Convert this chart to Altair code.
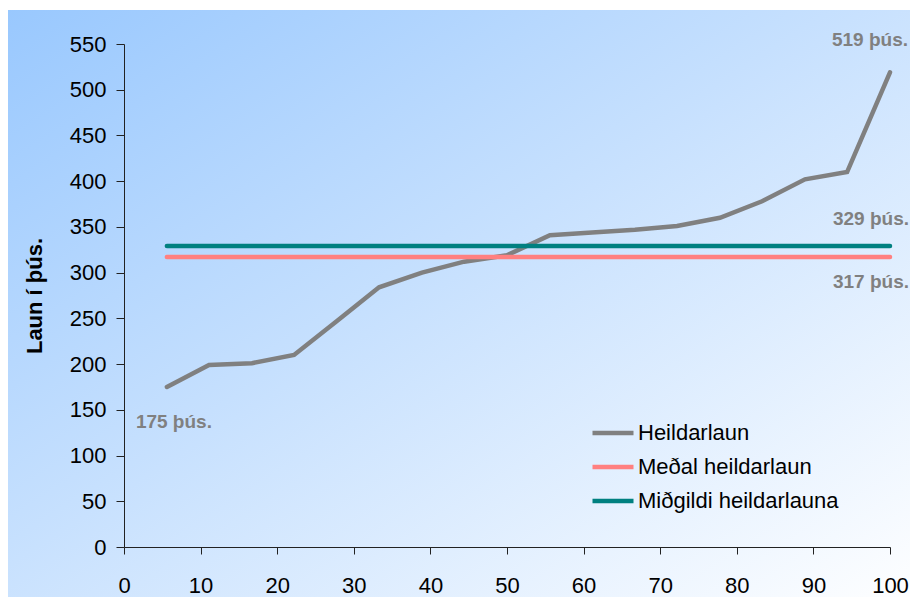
import altair as alt
import pandas as pd

# ---- data ----
pct = [5.6, 11.1, 16.7, 22.2, 27.8, 33.3, 38.9, 44.4, 50.0,
       55.6, 61.1, 66.7, 72.2, 77.8, 83.3, 88.9, 94.4, 100.0]
heildarlaun = [175, 199, 201, 210, 247, 284, 300, 312, 319,
               341, 344, 347, 351, 360, 378, 402, 410, 519]
medal = 317
midgildi = 329
series_names = ["Heildarlaun", "Meðal heildarlaun", "Miðgildi heildarlauna"]
series_colors = ["#808080", "#FF8080", "#008080"]
y_ticks = [0, 50, 100, 150, 200, 250, 300, 350, 400, 450, 500, 550]
x_ticks = [0, 10, 20, 30, 40, 50, 60, 70, 80, 90, 100]

rows = []
for x, v in zip(pct, heildarlaun):
    rows.append({"x": x, "v": v, "s": series_names[0]})
for x in (pct[0], pct[-1]):
    rows.append({"x": x, "v": medal, "s": series_names[1]})
    rows.append({"x": x, "v": midgildi, "s": series_names[2]})
df = pd.DataFrame(rows)

W, H = 766, 503
FONT = "Liberation Sans"

xs = alt.X("x:Q", scale=alt.Scale(domain=[0, 100], nice=False),
           axis=alt.Axis(values=x_ticks, title=None, grid=False, tickSize=7,
                         labelPadding=21, labelFontSize=22, labelFont=FONT,
                         labelColor="black", domainColor="#222", tickColor="#222",
                         labelFlush=False, zindex=2))
ys = alt.Y("v:Q", scale=alt.Scale(domain=[0, 550], nice=False),
           axis=alt.Axis(values=y_ticks, title="Laun í þús.", grid=False, tickSize=8,
                         labelPadding=10, labelFontSize=22, labelFont=FONT,
                         labelColor="black", domainColor="#222", tickColor="#222",
                         titleFont=FONT, titleFontSize=22, titleFontWeight="bold",
                         titleColor="black", titlePadding=23, zindex=2))

bg = alt.Chart(alt.Data(values=[{"a": 1}])).mark_rect(
    fill=alt.Gradient(gradient="linear",
                      stops=[alt.GradientStop(color="#99C8FE", offset=0),
                             alt.GradientStop(color="#C6E0FE", offset=0.45),
                             alt.GradientStop(color="#FFFFFF", offset=1)],
                      x1=0, y1=0, x2=1, y2=1),
    stroke=None
).encode(x=alt.value(-118), x2=alt.value(800), y=alt.value(-34), y2=alt.value(560))

lines = alt.Chart(df).mark_line(strokeWidth=4.5, strokeCap="round").encode(
    x=xs, y=ys,
    color=alt.Color("s:N", scale=alt.Scale(domain=series_names, range=series_colors),
                    sort=series_names,
                    legend=alt.Legend(title=None, orient="none", legendX=466, legendY=366,
                                      symbolType="stroke", symbolSize=1681,
                                      symbolStrokeWidth=4.5, labelFontSize=22,
                                      labelFont=FONT, labelColor="black",
                                      labelOffset=2, rowPadding=-4, padding=0,
                                      labelLimit=400)),
    order=alt.Order("x:Q"),
)

ann = pd.DataFrame({"x": [pct[-1], pct[-1], pct[-1], pct[0]],
                    "v": [heildarlaun[-1], midgildi, medal, heildarlaun[0]],
                    "t": [f"{heildarlaun[-1]} þús.", f"{midgildi} þús.",
                          f"{medal} þús.", f"{heildarlaun[0]} þús."]})

def label(i, dx, dy):
    return alt.Chart(ann.iloc[[i]]).mark_text(
        font=FONT, fontSize=19, fontWeight="bold", color="#808080",
        dx=dx, dy=dy).encode(x="x:Q", y="v:Q", text="t:N")

chart = alt.layer(
    bg, lines,
    label(0, -20, -32), label(1, -19, -27), label(2, -19, 25), label(3, 7, 35),
).properties(
    width=W, height=H,
    autosize=alt.AutoSizeParams(type="none"),
    padding={"left": 116, "top": 36, "right": 20, "bottom": 50},
    background="white",
).configure_view(stroke=None)

chart.save("out.html", embed_options={"renderer": "svg", "actions": False})
